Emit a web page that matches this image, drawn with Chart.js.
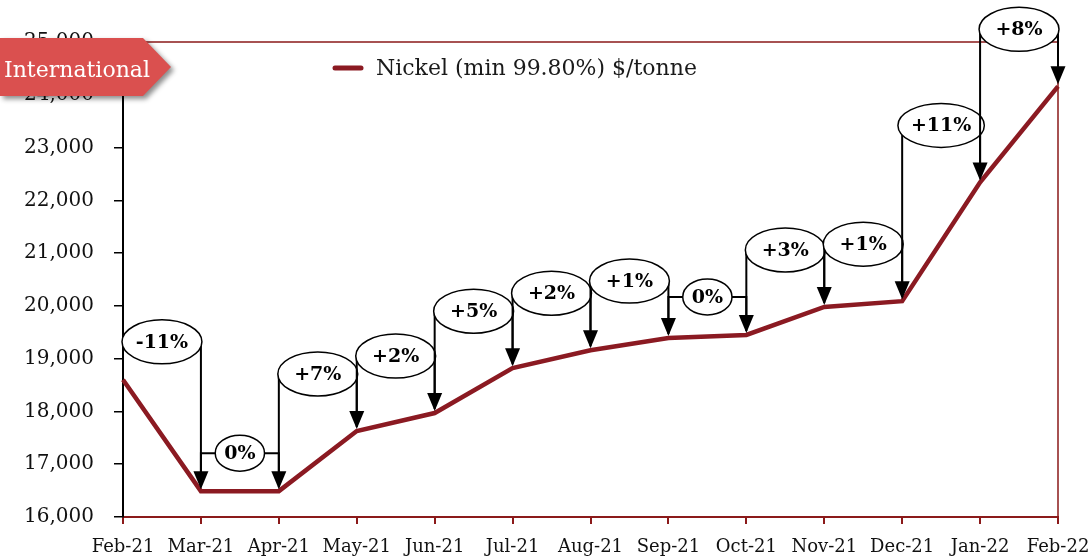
<!DOCTYPE html>
<html><head><meta charset="utf-8">
<script src="https://cdn.jsdelivr.net/npm/chart.js@4/dist/chart.umd.min.js"></script>
<style>html,body{margin:0;padding:0;background:#fff;overflow:hidden}#wrap{width:1092px;height:557px;position:relative}</style>
</head><body><div id="wrap"><canvas id="c" width="1092" height="557"></canvas></div>
<script>
const months = ['Feb-21','Mar-21','Apr-21','May-21','Jun-21','Jul-21','Aug-21','Sep-21','Oct-21','Nov-21','Dec-21','Jan-22','Feb-22'];
const nickelPrices = [18600,16490,16490,17630,17970,18820,19160,19390,19450,19980,20090,22340,24160];
const changeLabels = ['-11%','0%','+7%','+2%','+5%','+2%','+1%','0%','+3%','+1%','+11%','+8%'];
const yTicks = [16000,17000,18000,19000,20000,21000,22000,23000,24000,25000];
const seriesName = 'Nickel (min 99.80%) $/tonne';
const badgeText = 'International';

const SERIF = '"DejaVu Serif", "Liberation Serif", serif';
const LINE = '#8B1A22';
const FRAME = '#8B1A1A';

const deco = {
  id: 'deco',
  afterDatasetsDraw(chart) {
    const ctx = chart.ctx, xs = chart.scales.x, ys = chart.scales.y, ca = chart.chartArea;
    ctx.save();
    ctx.strokeStyle = FRAME; ctx.lineWidth = 1.5;
    ctx.beginPath();
    ctx.moveTo(ca.left, ca.top); ctx.lineTo(ca.right, ca.top); ctx.lineTo(ca.right, ca.bottom);
    ctx.stroke();
    ctx.font = 'bold 19px ' + SERIF;
    changeLabels.forEach((lab, i) => {
      const x0 = xs.getPixelForValue(i), x1 = xs.getPixelForValue(i + 1);
      const y0 = ys.getPixelForValue(nickelPrices[i]), y1 = ys.getPixelForValue(nickelPrices[i + 1]);
      const rising = !(lab === '0%' || lab.startsWith('-'));
      const flat = lab === '0%';
      const yc = Math.min(y0, y1) - (rising ? 57 : 38);
      ctx.strokeStyle = '#000'; ctx.fillStyle = '#000'; ctx.lineWidth = 2;
      ctx.beginPath();
      ctx.moveTo(x0, y0 - 4); ctx.lineTo(x0, yc); ctx.lineTo(x1, yc); ctx.lineTo(x1, y1 - 18);
      ctx.stroke();
      ctx.beginPath();
      ctx.moveTo(x1 - 7.5, y1 - 20); ctx.lineTo(x1 + 7.5, y1 - 20); ctx.lineTo(x1, y1 - 2); ctx.closePath();
      ctx.fill();
      const tw = ctx.measureText(lab).width;
      const cx = (x0 + x1) / 2;
      const rx = flat ? tw / 2 + 9 : Math.max((x1 - x0) / 2 + 1, tw / 2 + 13);
      const ry = flat ? 18 : 22;
      ctx.beginPath();
      ctx.ellipse(cx, yc, rx, ry, 0, 0, Math.PI * 2);
      ctx.fillStyle = '#fff'; ctx.fill();
      ctx.lineWidth = 1.5; ctx.strokeStyle = '#000'; ctx.stroke();
      ctx.fillStyle = '#000'; ctx.textAlign = 'center'; ctx.textBaseline = 'middle';
      ctx.fillText(lab, cx, yc + 1);
    });
    ctx.restore();
  },
  afterDraw(chart) {
    const ctx = chart.ctx;
    ctx.save();
    ctx.strokeStyle = LINE; ctx.lineWidth = 5; ctx.lineCap = 'round';
    ctx.beginPath(); ctx.moveTo(335, 68); ctx.lineTo(361, 68); ctx.stroke();
    ctx.fillStyle = '#1a1a1a'; ctx.font = '22px ' + SERIF; ctx.textBaseline = 'middle'; ctx.textAlign = 'left';
    ctx.fillText(seriesName, 376, 69);
    ctx.save();
    ctx.shadowColor = 'rgba(0,0,0,0.45)'; ctx.shadowBlur = 5; ctx.shadowOffsetX = 3; ctx.shadowOffsetY = 3;
    ctx.fillStyle = '#DA504F';
    ctx.beginPath();
    ctx.moveTo(0, 38); ctx.lineTo(143, 38); ctx.lineTo(171, 67); ctx.lineTo(143, 96); ctx.lineTo(0, 96); ctx.closePath();
    ctx.fill();
    ctx.restore();
    ctx.fillStyle = '#fff'; ctx.font = '22px ' + SERIF; ctx.textBaseline = 'middle'; ctx.textAlign = 'left';
    ctx.fillText(badgeText, 4, 71);
    ctx.restore();
  }
};

new Chart(document.getElementById('c'), {
  type: 'line',
  data: {
    labels: months,
    datasets: [{
      label: seriesName,
      data: nickelPrices,
      borderColor: LINE,
      borderWidth: 4.5,
      pointRadius: 0,
      tension: 0,
      fill: false
    }]
  },
  options: {
    responsive: false,
    animation: false,
    layout: { padding: { top: 42, right: 34, left: 0, bottom: 0 } },
    plugins: { legend: { display: false }, tooltip: { enabled: false } },
    scales: {
      x: {
        offset: false,
        grid: { drawOnChartArea: false, drawTicks: true, tickLength: 7, color: FRAME, lineWidth: 2 },
        border: { color: FRAME, width: 2 },
        ticks: { autoSkip: false, maxRotation: 0, color: '#111', font: { family: SERIF, size: 18 }, padding: 13 },
        afterFit(s) { s.height = 40; s.paddingLeft = 0; s.paddingRight = 0; }
      },
      y: {
        min: 16000, max: 25000,
        afterBuildTicks(s) { s.ticks = yTicks.map(v => ({ value: v })); },
        grid: { drawOnChartArea: false, drawTicks: true, tickLength: 9, color: '#000', lineWidth: 1.5 },
        border: { color: '#000', width: 2 },
        ticks: { color: '#111', font: { family: SERIF, size: 20 }, padding: 20,
          callback: v => v.toLocaleString('en-US') },
        afterFit(s) { s.width = 123; }
      }
    }
  },
  plugins: [deco]
});
</script></body></html>
